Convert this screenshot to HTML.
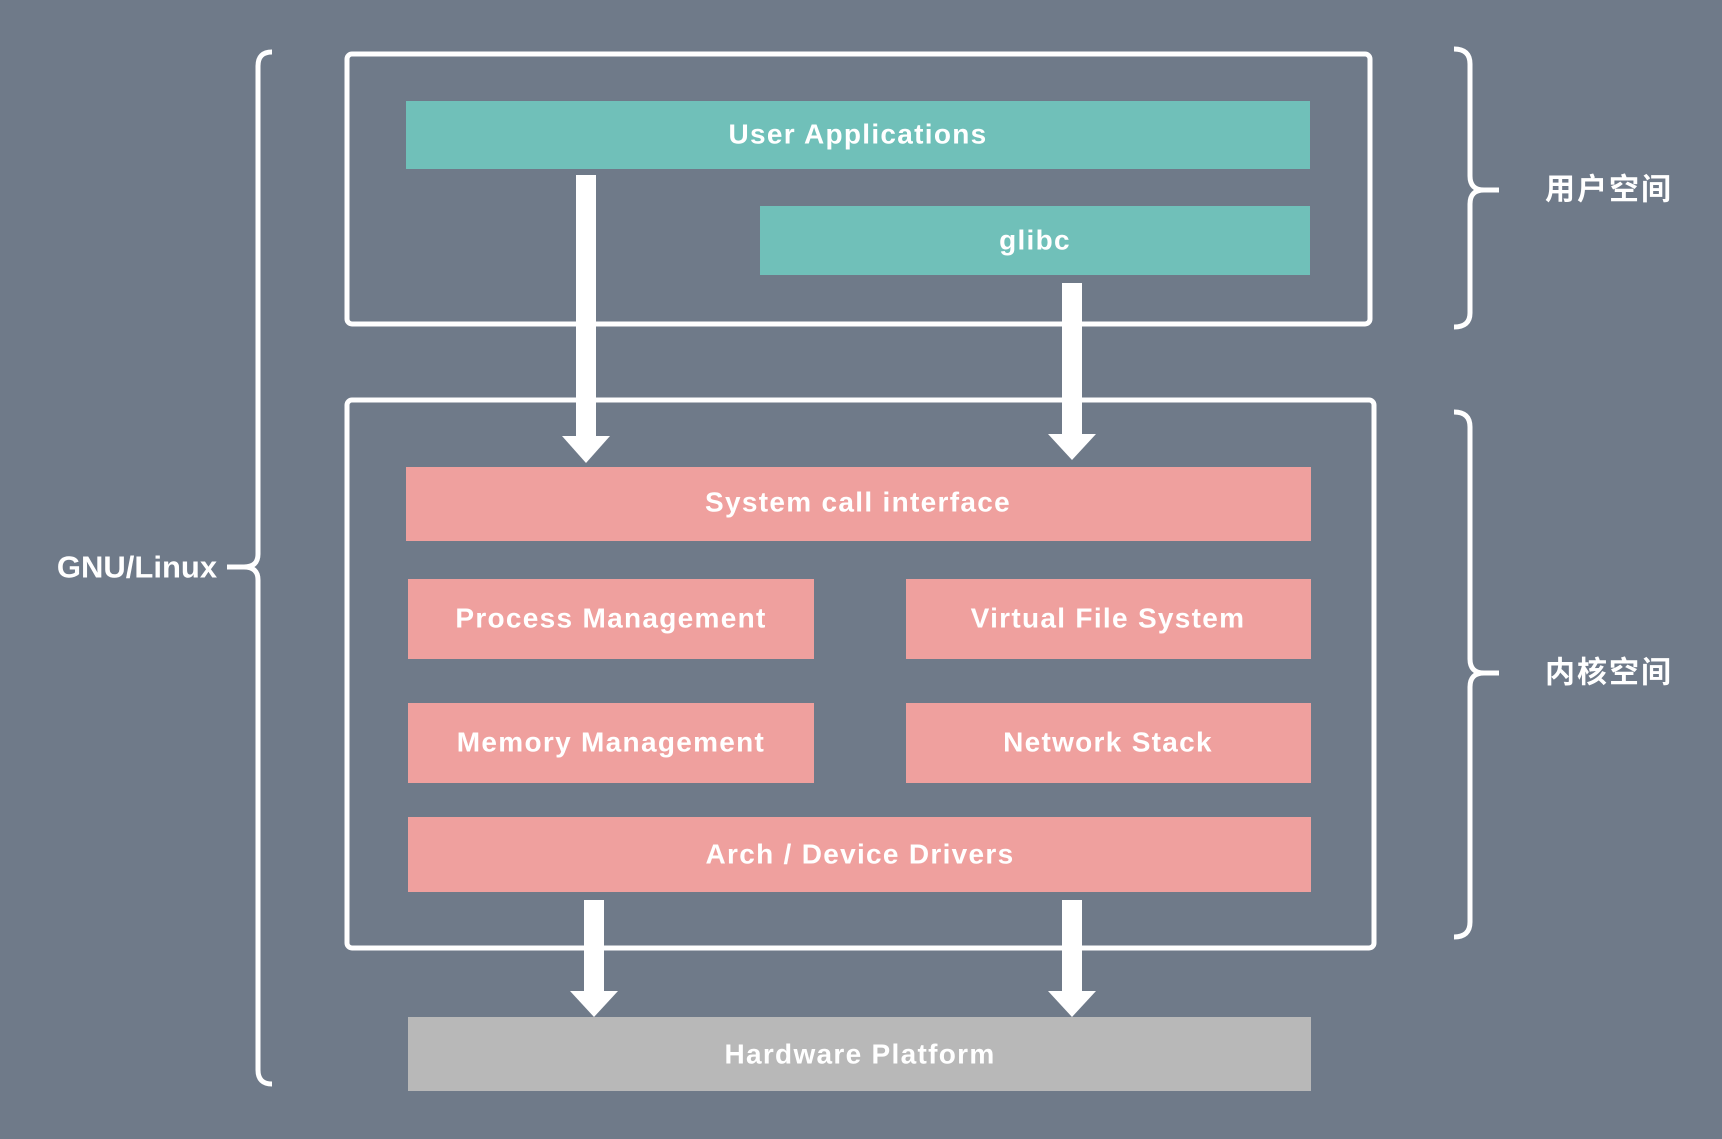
<!DOCTYPE html>
<html><head><meta charset="utf-8"><style>
body{margin:0;width:1722px;height:1134px;background:#6f7a89;overflow:hidden;font-family:"Liberation Sans","Noto Sans CJK SC",sans-serif}
</style></head><body>
<svg width="1722" height="1134" xmlns="http://www.w3.org/2000/svg" font-family="Liberation Sans, Noto Sans CJK SC, sans-serif">
<rect width="1722" height="1134" fill="#6f7a89"/>
<g fill="none" stroke="#fff" stroke-width="5">
<rect x="347" y="54" width="1023" height="270" rx="5"/>
<rect x="347" y="400" width="1027" height="548" rx="5"/>
<path d="M272 52 Q258 52 258 66 L258 554 Q258 567 244 567 L227 567 M244 567 Q258 567 258 580 L258 1070 Q258 1084 272 1084"/>
<path d="M1454 49 Q1470 49 1470 64 L1470 176 Q1470 190 1484 190 L1499 190 M1484 190 Q1470 190 1470 204 L1470 313 Q1470 327 1454 327"/>
<path d="M1454 412 Q1470 412 1470 427 L1470 659 Q1470 673 1484 673 L1499 673 M1484 673 Q1470 673 1470 687 L1470 922 Q1470 937 1454 937"/>
</g>
<g>
<rect x="406" y="101" width="904" height="68" fill="#70c0b9"/>
<rect x="760" y="206" width="550" height="69" fill="#70c0b9"/>
<rect x="406" y="467" width="905" height="74" fill="#efa09e"/>
<rect x="408" y="579" width="406" height="80" fill="#efa09e"/>
<rect x="906" y="579" width="405" height="80" fill="#efa09e"/>
<rect x="408" y="703" width="406" height="80" fill="#efa09e"/>
<rect x="906" y="703" width="405" height="80" fill="#efa09e"/>
<rect x="408" y="817" width="903" height="75" fill="#efa09e"/>
<rect x="408" y="1017" width="903" height="74" fill="#b8b8b8"/>
</g>
<g fill="#fff">
<rect x="576" y="175" width="20" height="262"/><path d="M562 436 L610 436 L586 463 Z"/>
<rect x="1062" y="283" width="20" height="152"/><path d="M1048 434 L1096 434 L1072 460 Z"/>
<rect x="584" y="900" width="20" height="92"/><path d="M570 991 L618 991 L594 1017 Z"/>
<rect x="1062" y="900" width="20" height="92"/><path d="M1048 991 L1096 991 L1072 1017 Z"/>
</g>
<g fill="#fff" font-weight="bold" font-size="28" text-anchor="middle" dominant-baseline="central" letter-spacing="1.3">
<text x="858" y="134">User Applications</text>
<text x="1035" y="240">glibc</text>
<text x="858" y="502">System call interface</text>
<text x="611" y="618">Process Management</text>
<text x="1108" y="618">Virtual File System</text>
<text x="611" y="742">Memory Management</text>
<text x="1108" y="742">Network Stack</text>
<text x="860" y="854">Arch / Device Drivers</text>
<text x="860" y="1054">Hardware Platform</text>
<text x="137" y="567" font-size="31" letter-spacing="0">GNU/Linux</text>
<text x="1609" y="190" font-size="30" letter-spacing="2">用户空间</text>
<text x="1609" y="673" font-size="30" letter-spacing="2">内核空间</text>
</g>
</svg>
</body></html>
